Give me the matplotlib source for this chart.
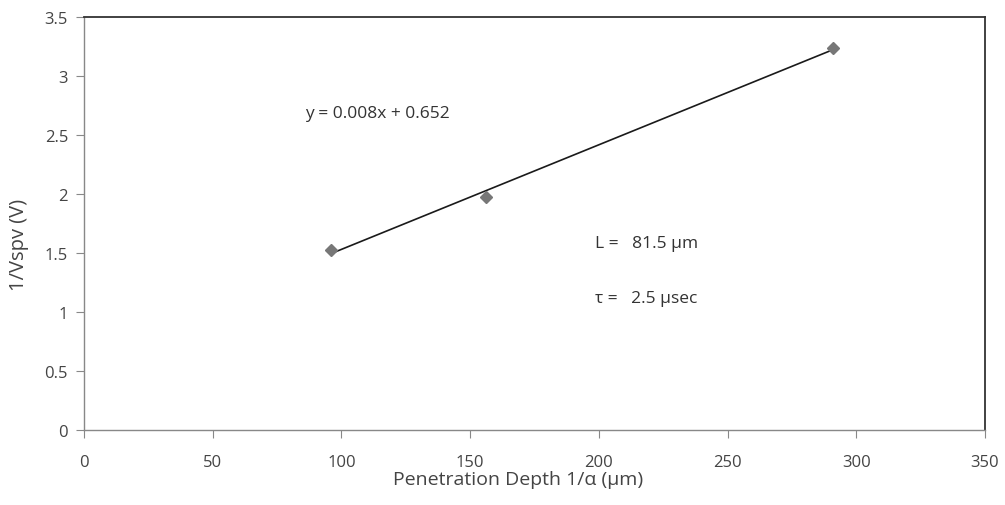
import numpy as np
import matplotlib
matplotlib.use('Agg')
import matplotlib.pyplot as plt

plt.rcParams['font.family'] = ['Open Sans', 'DejaVu Sans']

# data
depth = [96, 156, 291]          # penetration depth 1/alpha (um)
inv_vspv = [1.53, 1.98, 3.24]   # 1/Vspv (V)
xticks = [0, 50, 100, 150, 200, 250, 300, 350]
yticks = [0, 0.5, 1, 1.5, 2, 2.5, 3, 3.5]

fig = plt.figure(figsize=(10.05, 5.06), dpi=100)
ax = fig.add_axes([0.0836, 0.148, 0.8964, 0.816])

# linear trendline through the points
k, b = np.polyfit(depth, inv_vspv, 1)
xs = np.array([min(depth), max(depth)])
ax.plot(xs, k*xs + b, color='#1a1a1a', lw=1.2, zorder=2)
ax.plot(depth, inv_vspv, ls='none', marker='D', ms=6, color='#777777', zorder=3)

ax.text(86, 2.69, 'y = 0.008x + 0.652', fontsize=12.5, color='#333333', va='center')
ax.text(198.5, 1.59, 'L =   81.5 µm', fontsize=12.5, color='#333333', va='center')
ax.text(198.5, 1.12, 'τ =   2.5 µsec', fontsize=12.5, color='#333333', va='center')

ax.set_xlim(0, 350); ax.set_ylim(0, 3.5)
ax.set_xticks(xticks); ax.set_yticks(yticks)
ax.set_xticklabels([str(t) for t in xticks])
ax.set_yticklabels(['0', '0.5', '1', '1.5', '2', '2.5', '3', '3.5'])
ax.tick_params(direction='out', length=5.5, width=0.8, color='#888888',
               labelsize=12, labelcolor='#444444')
ax.tick_params(axis='x', pad=12)
ax.tick_params(axis='y', pad=6)
for s in ['left', 'bottom']:
    ax.spines[s].set_color('#888888'); ax.spines[s].set_linewidth(1.0)
for s in ['top', 'right']:
    ax.spines[s].set_color('#333333'); ax.spines[s].set_linewidth(1.3)

ax.set_xlabel('Penetration Depth 1/α (µm)', fontsize=14, color='#444444')
ax.set_ylabel('1/Vspv (V)', fontsize=14.5, color='#444444')
ax.xaxis.set_label_coords(0.482, -0.096)
ax.yaxis.set_label_coords(-0.061, 0.45)

plt.savefig('out.png', dpi=100)
